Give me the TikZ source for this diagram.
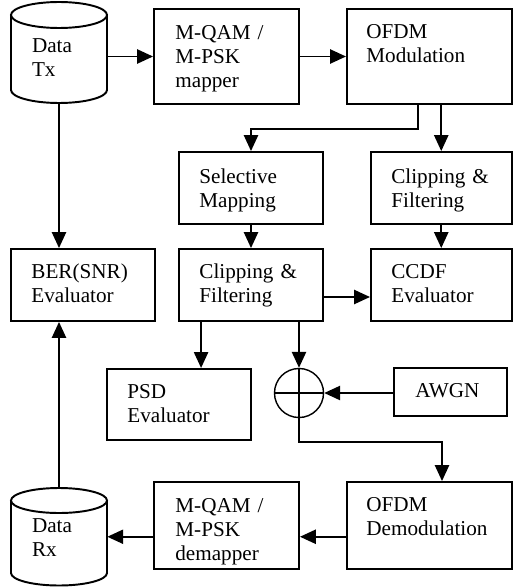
\documentclass[tikz,border=0pt]{standalone}
\usepackage{fontspec}
\setmainfont{Liberation Serif}
\usetikzlibrary{arrows.meta,calc}
\begin{document}
\begin{tikzpicture}[x=0.567pt,y=-0.567pt,
  box/.style={draw,line width=1.1pt,rectangle,inner sep=0pt},
  ghost/.style={rectangle,inner sep=0pt},
  lbl/.style={anchor=base west,inner sep=0pt,text width=90pt,align=left,
    font=\fontsize{12}{13.6}\selectfont},
  arr/.style={line width=1.1pt,-{Triangle[length=9pt,width=8pt]}},
  ln/.style={line width=1.1pt},
  sumc/.style={draw,circle,line width=0.8pt,minimum size=27.8pt,inner sep=0pt}]
\useasboundingbox (0,0) rectangle (513,588);
% boxes
\node[box,minimum width=82.2pt,minimum height=53.9pt] (map) at (226.5,56.5) {};
\node[box,minimum width=93.3pt,minimum height=53.9pt] (ofdm) at (429.25,56.5) {};
\node[box,minimum width=81.6pt,minimum height=40.8pt] (sel) at (251,188) {};
\node[box,minimum width=79.7pt,minimum height=40.8pt] (clipA) at (441.25,188) {};
\node[box,minimum width=81.6pt,minimum height=40.8pt] (ber) at (83,285) {};
\node[box,minimum width=81.6pt,minimum height=40.8pt] (clipB) at (251,285) {};
\node[box,minimum width=79.7pt,minimum height=40.8pt] (ccdf) at (441.25,285) {};
\node[box,minimum width=81.6pt,minimum height=40.3pt] (psd) at (179,404.5) {};
\node[box,minimum width=64.1pt,minimum height=27.2pt] (awgn) at (450.5,392) {};
\node[box,minimum width=93.3pt,minimum height=49.3pt] (demod) at (429.25,525.5) {};
\node[box,minimum width=82.2pt,minimum height=49.3pt] (demap) at (226.5,525.5) {};
\node[sumc] (sum) at (299,393) {};
\draw[line width=0.8pt] (sum.north) -- (sum.south) (sum.west) -- (sum.east);
% cylinders
\node[ghost,minimum width=54.4pt,minimum height=57.3pt] (tx) at (59,52.5) {};
\node[ghost,minimum width=54.4pt,minimum height=55.3pt] (rx) at (59,536.75) {};
\draw[ln] (59,15) ellipse [x radius=48,y radius=13];
\draw[ln] (11,15) -- (11,90) arc[start angle=180,end angle=0,x radius=48,y radius=13] -- (107,15);
\draw[ln] (59,500.5) ellipse [x radius=48,y radius=12.5];
\draw[ln] (11,500.5) -- (11,573) arc[start angle=180,end angle=0,x radius=48,y radius=12.5] -- (107,500.5);
% labels
\node[lbl] (tTx) at ($(tx.north west)+(21,51)$) {Data\\Tx};
\node[lbl] (tRx) at ($(rx.north west)+(21,45)$) {Data\\Rx};
\node[lbl] (tmap) at ($(map.north west)+(22,32)$) {M-QAM /\\M-PSK\\mapper};
\node[lbl] (tofdm) at ($(ofdm.north west)+(20,31)$) {OFDM\\Modulation};
\node[lbl] (tsel) at ($(sel.north west)+(21,32)$) {Selective\\Mapping};
\node[lbl] (tclipA) at ($(clipA.north west)+(21,32)$) {Clipping \&\\Filtering};
\node[lbl] (tber) at ($(ber.north west)+(21,30)$) {BER(SNR)\\Evaluator};
\node[lbl] (tclipB) at ($(clipB.north west)+(21,30)$) {Clipping \&\\Filtering};
\node[lbl] (tccdf) at ($(ccdf.north west)+(21,30)$) {CCDF\\Evaluator};
\node[lbl] (tpsd) at ($(psd.north west)+(21,31)$) {PSD\\Evaluator};
\node[lbl] (tawgn) at ($(awgn.north west)+(22,30)$) {AWGN};
\node[lbl] (tdemod) at ($(demod.north west)+(20,30)$) {OFDM\\Demodulation};
\node[lbl] (tdemap) at ($(demap.north west)+(22,31)$) {M-QAM /\\M-PSK\\demapper};
% connectors
\draw[arr] (map.west -| tx.east) -- (map.west);
\draw[arr] (map.east) -- (ofdm.west);
\draw[arr] ($(ofdm.south west)+(72,0)$) -- ++(0,24) -| (sel.north);
\draw[arr] (ofdm.south -| clipA.north) -- (clipA.north);
\draw[arr] (sel.south) -- (clipB.north);
\draw[arr] (clipA.south) -- (ccdf.north);
\draw[arr] ($(clipB.east)+(0,12)$) -- ($(ccdf.west)+(0,12)$);
\draw[arr] (tx.south) -- (tx.south |- ber.north);
\draw[arr] (rx.north) -- (rx.north |- ber.south);
\draw[arr] ($(clipB.south west)+(23,0)$) coordinate (c1) -- (c1 |- psd.north);
\draw[arr] (clipB.south -| sum.north) -- (sum.north);
\draw[arr] (awgn.west |- sum.east) -- (sum.east);
\draw[arr] (sum.south) -- ++(0,23.5) -| ($(demod.north west)+(96,0)$);
\draw[arr] (demod.west |- rx.east) -- (demap.east |- rx.east);
\draw[arr] (demap.west |- rx.east) -- (rx.east);
\end{tikzpicture}
\end{document}
